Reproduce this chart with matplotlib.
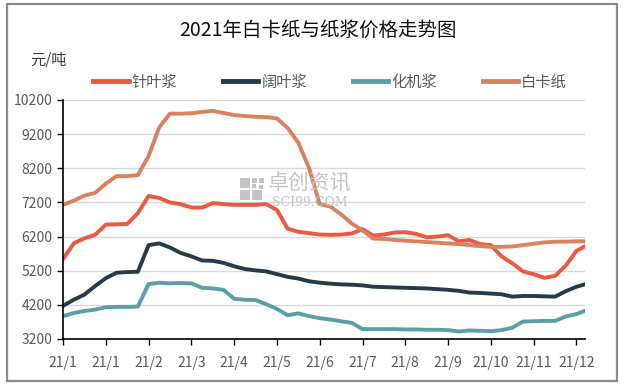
import matplotlib
matplotlib.use("Agg")
import matplotlib.pyplot as plt
from matplotlib.patches import Rectangle

plt.rcParams['font.family'] = ['Noto Sans CJK SC', 'DejaVu Sans']

title = "2021年白卡纸与纸浆价格走势图"
unit = "元/吨"
series_names = ["针叶浆", "阔叶浆", "化机浆", "白卡纸"]
series_colors = ["#EC5840", "#253B4B", "#5A9FA5", "#D9825E"]

x_labels = ["21/1", "21/1", "21/2", "21/3", "21/4", "21/5", "21/6",
            "21/7", "21/8", "21/9", "21/10", "21/11", "21/12"]
y_ticks = [3200, 4200, 5200, 6200, 7200, 8200, 9200, 10200]

# weekly samples (4 per tick interval)
zhenye = [5540, 6000, 6150, 6250, 6550, 6560, 6570, 6890, 7390, 7330,
          7200, 7150, 7050, 7050, 7180, 7150, 7130, 7130, 7130, 7150,
          6980, 6430, 6340, 6300, 6260, 6250, 6260, 6290, 6420, 6230,
          6260, 6320, 6330, 6280, 6180, 6200, 6240, 6060, 6100, 5980,
          5950, 5620, 5420, 5180, 5100, 4990, 5050, 5350, 5780, 5950]
kuoye = [4170, 4350, 4500, 4750, 4980, 5140, 5160, 5170, 5950, 6000,
         5880, 5720, 5620, 5500, 5490, 5430, 5330, 5250, 5210, 5180,
         5100, 5020, 4970, 4890, 4850, 4820, 4800, 4790, 4770, 4730,
         4720, 4710, 4700, 4690, 4680, 4660, 4640, 4610, 4560, 4550,
         4530, 4510, 4440, 4460, 4460, 4450, 4440, 4600, 4730, 4820]
huaji = [3870, 3960, 4020, 4060, 4130, 4140, 4140, 4150, 4810, 4850,
         4830, 4840, 4830, 4700, 4680, 4640, 4380, 4350, 4340, 4220,
         4080, 3900, 3950, 3870, 3810, 3770, 3720, 3670, 3490, 3490,
         3490, 3490, 3480, 3480, 3470, 3470, 3460, 3420, 3450, 3440,
         3430, 3460, 3530, 3710, 3720, 3730, 3730, 3860, 3930, 4050]
baika = [7130, 7250, 7400, 7480, 7750, 7970, 7970, 8000, 8560, 9400,
         9800, 9800, 9810, 9850, 9880, 9820, 9760, 9730, 9710, 9700,
         9660, 9380, 8950, 8210, 7150, 7080, 6850, 6580, 6380, 6140,
         6130, 6100, 6080, 6060, 6040, 6020, 6000, 5980, 5950, 5920,
         5900, 5900, 5910, 5950, 5990, 6030, 6050, 6050, 6060, 6060]

series = [zhenye, kuoye, huaji, baika]
x = list(range(len(zhenye)))
tick_step = 4

fig = plt.figure(figsize=(6.24, 3.85), dpi=100)
fig.patch.set_facecolor("white")
fig.patches.append(Rectangle((7/624, 4/385), 610/624, 377/385, transform=fig.transFigure,
                             fill=False, edgecolor="#8C8C8C", linewidth=1.6))

# watermark (behind the lines)
wm = "#C4C4C4"
for (px, py, w, h) in [(240, 178, 10, 10), (252, 178, 5, 5), (259, 178, 5, 5),
                       (240, 190, 10, 10), (252, 190, 10, 10), (252, 184, 4, 4),
                       (259, 185, 4, 4)]:
    fig.patches.append(Rectangle((px/624, 1-(py+h)/385), w/624, h/385,
                                 transform=fig.transFigure, facecolor=wm,
                                 edgecolor="none", zorder=0))
fig.text(310/624, 1-184/385, "卓创资讯", ha="center", va="center", fontsize=15,
         color=wm, zorder=0)
fig.text(310/624, 1-203/385, "SCI99.COM", ha="center", va="center", fontsize=9,
         color=wm, family="DejaVu Serif", zorder=0)

ax = fig.add_axes([63/624, 1-339/385, 522/624, 239/385])
ax.patch.set_alpha(0)
for name, vals, col in zip(series_names, series, series_colors):
    ax.plot(x, vals, color=col, lw=2.8, label=name, solid_joinstyle="round")

ax.set_xlim(0, 48.8)
ax.set_ylim(3200, 10200)
ax.set_yticks(y_ticks)
ax.set_yticklabels([str(v) for v in y_ticks])
ax.set_xticks([i * tick_step for i in range(len(x_labels))])
ax.set_xticklabels(x_labels)
ax.grid(axis="y", color="#D9D9D9", lw=1)
ax.set_axisbelow(True)
for s in ["top", "right"]:
    ax.spines[s].set_visible(False)
for s in ["left", "bottom"]:
    ax.spines[s].set_color("black")
    ax.spines[s].set_linewidth(1.2)
ax.tick_params(axis="both", colors="black", length=4, width=1, labelcolor="#595959", labelsize=10)
ax.tick_params(axis="x", pad=8)

fig.text(318/624, 1-30/385, title, ha="center", va="center", fontsize=14, color="#111111")
fig.text(30/624, 1-60/385, unit, ha="left", va="center", fontsize=11, color="#404040")

leg = fig.legend(loc="center", bbox_to_anchor=(330/624, 1-82/385), ncol=4, frameon=False,
                 fontsize=11, handlelength=2.3, handletextpad=0.2, columnspacing=3.0,
                 labelcolor="#595959")
for ln in leg.get_lines():
    ln.set_linewidth(3.5)

fig.savefig("out.png", dpi=100)
